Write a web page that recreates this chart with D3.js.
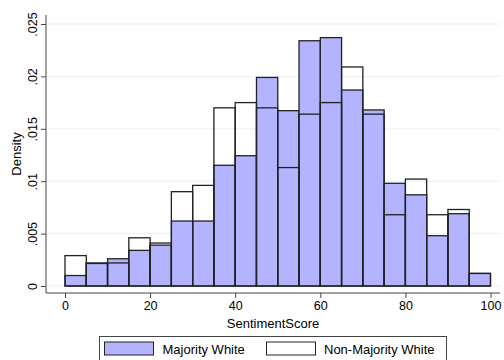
<!DOCTYPE html>
<html>
<head>
<meta charset="utf-8">
<script src="https://cdn.jsdelivr.net/npm/d3@7"></script>
<style>
  html, body { margin: 0; padding: 0; background: #fff; }
  svg { display: block; font-family: "Liberation Sans", Arial, Helvetica, sans-serif; }
</style>
</head>
<body>
<svg id="chart" width="504" height="360"></svg>
<script>
// Data
const binStarts = [0, 5, 10, 15, 20, 25, 30, 35, 40, 45, 50, 55, 60, 65, 70, 75, 80, 85, 90, 95];
const binWidth = 5;
const majorityWhite = [0.0010, 0.00215, 0.0026, 0.0034, 0.0039, 0.0062, 0.0062, 0.01152, 0.01243, 0.0199, 0.01673, 0.0234, 0.0237, 0.0187, 0.0168, 0.0098, 0.0087, 0.0048, 0.0069, 0.0012];
const nonMajorityWhite = [0.0029, 0.0022, 0.0022, 0.0046, 0.0041, 0.0090, 0.0096, 0.0170, 0.0175, 0.0170, 0.0113, 0.0164, 0.0175, 0.0209, 0.0164, 0.0068, 0.0102, 0.0068, 0.0073, 0.0012];
const xTicks = [0, 20, 40, 60, 80, 100];
const yTicks = [0, 0.005, 0.01, 0.015, 0.02, 0.025];
const yTickLabels = ["0", ".005", ".01", ".015", ".02", ".025"];
const seriesNames = ["Majority White", "Non-Majority White"];

const svg = d3.select("#chart");
const plotLeft = 46, plotRight = 500, plotTop = 15, plotBottom = 293;

const x = d3.scaleLinear().domain([0, 100]).range([65, 490.5]);
const y = d3.scaleLinear().domain([0, 0.025]).range([286, 24]);

// gridlines
svg.append("g").selectAll("line").data(yTicks).join("line")
  .attr("x1", plotLeft + 1).attr("x2", plotRight)
  .attr("y1", d => y(d)).attr("y2", d => y(d))
  .attr("stroke", "#e8f0f2").attr("stroke-width", 1);

// majority bars
svg.append("g").selectAll("rect").data(binStarts).join("rect")
  .attr("x", d => x(d)).attr("width", d => x(d + binWidth) - x(d))
  .attr("y", (d, i) => y(majorityWhite[i]))
  .attr("height", (d, i) => y(0) - y(majorityWhite[i]))
  .attr("fill", "#b3b3ff").attr("stroke", "#222").attr("stroke-width", 1.3);

// non-majority bars (outline)
svg.append("g").selectAll("rect").data(binStarts).join("rect")
  .attr("x", d => x(d)).attr("width", d => x(d + binWidth) - x(d))
  .attr("y", (d, i) => y(nonMajorityWhite[i]))
  .attr("height", (d, i) => y(0) - y(nonMajorityWhite[i]))
  .attr("fill", "none").attr("stroke", "#222").attr("stroke-width", 1.3);

// axes
const xAxis = d3.axisBottom(x).tickValues(xTicks).tickSize(5).tickPadding(3).tickFormat(d3.format("d"));
const gx = svg.append("g").attr("transform", `translate(0,${plotBottom})`).call(xAxis);
gx.select(".domain").remove();
gx.append("line").attr("x1", plotLeft).attr("x2", plotRight).attr("y1", 0).attr("y2", 0)
  .attr("stroke", "#444").attr("stroke-width", 1);
gx.selectAll(".tick line").attr("stroke", "#444");
gx.selectAll(".tick text").attr("font-size", 12.5).attr("fill", "#000")
  .attr("font-family", "Liberation Sans, Arial, sans-serif");

const yAxis = d3.axisLeft(y).tickValues(yTicks).tickSize(5).tickPadding(3)
  .tickFormat((d, i) => yTickLabels[i]);
const gy = svg.append("g").attr("transform", `translate(${plotLeft},0)`).call(yAxis);
gy.select(".domain").remove();
gy.append("line").attr("x1", 0).attr("x2", 0).attr("y1", plotTop).attr("y2", plotBottom)
  .attr("stroke", "#444").attr("stroke-width", 1);
gy.selectAll(".tick line").attr("stroke", "#444");
gy.selectAll(".tick text")
  .attr("font-size", 12.5).attr("fill", "#000")
  .attr("font-family", "Liberation Sans, Arial, sans-serif")
  .attr("text-anchor", "middle").attr("dy", null).attr("x", null)
  .attr("transform", "translate(-13,0) rotate(-90)")
  .attr("dy", "0.35em");

// axis titles
svg.append("text").attr("x", (plotLeft + plotRight) / 2).attr("y", 328)
  .attr("text-anchor", "middle").attr("font-size", 13).text("SentimentScore");
svg.append("text").attr("transform", `translate(21,${(plotTop + plotBottom) / 2}) rotate(-90)`)
  .attr("text-anchor", "middle").attr("font-size", 13).text("Density");

// legend
const lg = svg.append("g");
lg.append("rect").attr("x", 99.5).attr("y", 336.5).attr("width", 347).attr("height", 30)
  .attr("fill", "#fff").attr("stroke", "#444").attr("stroke-width", 1);
const legendItems = [
  { name: seriesNames[0], fill: "#b3b3ff", sx: 104.5, tx: 162.5 },
  { name: seriesNames[1], fill: "#fff", sx: 266.5, tx: 324 }
];
legendItems.forEach(it => {
  lg.append("rect").attr("x", it.sx).attr("y", 342).attr("width", 49).attr("height", 13)
    .attr("fill", it.fill).attr("stroke", "#222").attr("stroke-width", 1);
  lg.append("text").attr("x", it.tx).attr("y", 353.5).attr("font-size", 13).text(it.name);
});
</script>
</body>
</html>
